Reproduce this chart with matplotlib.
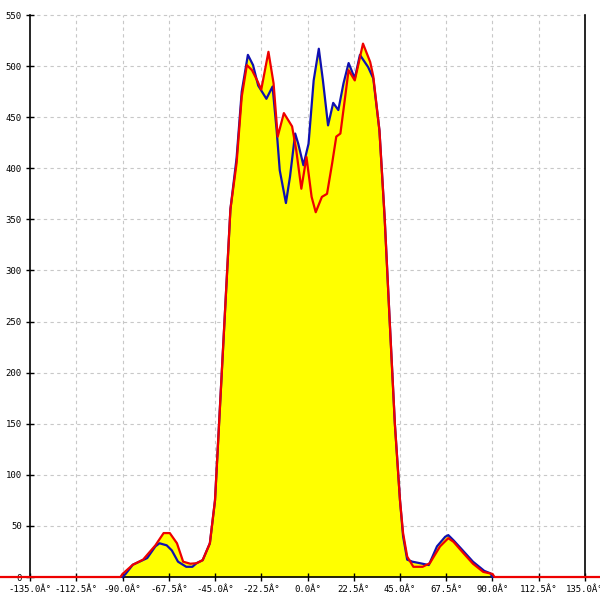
import numpy as np
import matplotlib
matplotlib.use("Agg")
import matplotlib.pyplot as plt

# Ángulos y valores
red_ang = [-180, -91, -90, -85, -80, -74, -70, -67, -63.5, -60.5, -57, -54, -51, -47.5,
           -45, -42.5, -40, -37.5, -34.5, -32, -29.5, -27, -24.5, -22.5, -19, -16.5,
           -14.5, -11.5, -7.5, -5.5, -3, -0.5, 2, 4, 7, 9.5, 12, 14, 16, 20, 23, 27,
           30.5, 32, 35, 37.5, 40, 42.5, 45, 46.5, 48.5, 51.5, 56, 59.5, 64.5, 68.5,
           71, 76, 80.5, 85.5, 90, 91, 180]
red_val = [0, 0, 3, 12, 17, 31, 43, 43, 33, 15, 13, 13.5, 16.5, 33,
           75, 170, 265, 360, 405, 470, 501, 496, 486, 477, 514, 483,
           431, 454, 441, 418, 380, 411, 372, 357, 372, 375, 405, 431, 434, 496, 486, 522,
           504, 490, 437, 353, 250, 150, 75, 43, 20, 10, 10, 13.5, 30, 38,
           34.5, 23, 13, 5, 3, 0, 0]

blue_ang = [-90, -88.5, -85, -78, -74, -72, -68.5, -66, -63, -59, -56, -54, -51, -47.5,
            -45, -42.5, -40, -37.5, -34.5, -32, -29, -26.5, -24, -20, -17, -15, -13.5,
            -10.5, -8.5, -6, -4.5, -2, 0.5, 3, 5.5, 7.5, 10, 12.5, 15, 17.5, 20, 23,
            25.5, 29.5, 32, 35, 37.5, 40, 42.5, 45, 46.5, 48.5, 51, 55, 59, 63, 67,
            68.5, 71, 76, 80.5, 86, 89, 90]
blue_val = [0, 3, 12, 18.5, 30, 33, 31, 26, 15, 10, 10, 13.5, 16.5, 33,
            75, 170, 265, 360, 410, 475, 511, 501, 481, 468, 480, 437, 398,
            366, 392, 434, 424, 403, 424, 486, 517, 486, 442, 464, 457, 483, 503, 488,
            511, 499, 488, 437, 353, 250, 150, 75, 40, 17, 15, 13.4, 11.7, 30, 39.4,
            41, 36, 25, 15, 6, 3.6, 0]

x_ticks = np.arange(-135, 135.1, 22.5)
y_ticks = np.arange(0, 551, 50)
x_labels = ["%.1fÂ°" % v for v in x_ticks]

fig = plt.figure(figsize=(6, 6), dpi=100)
ax = fig.add_axes([0, 0, 1, 1])
ax.set_xlim(-149.6, 142.3)
ax.set_ylim(-22.5, 564.7)

# rejilla discontinua solo dentro del área
ax.vlines(x_ticks[1:-1], 0, 550, colors="#c8c8c8", linestyles=(0, (3, 3)), linewidth=0.8, zorder=0)
ax.hlines(y_ticks[1:], -135, 135, colors="#c8c8c8", linestyles=(0, (3, 3)), linewidth=0.8, zorder=0)

ax.fill_between(blue_ang, blue_val, 0, color="#ffff00", lw=0, zorder=1)
ax.fill_between(red_ang, red_val, 0, color="#ffff00", lw=0, zorder=1)
ax.plot(blue_ang, blue_val, color="#1010b0", lw=1.6, zorder=3)
ax.plot(red_ang, red_val, color="#ee0000", lw=1.6, zorder=4)

ax.spines["top"].set_visible(False)
ax.spines["left"].set_position(("data", -135))
ax.spines["left"].set_bounds(0, 550)
ax.spines["right"].set_position(("data", 135))
ax.spines["right"].set_bounds(0, 550)
ax.spines["bottom"].set_position(("data", 0))
ax.spines["bottom"].set_bounds(-135, 135)
for s in ["left", "right", "bottom"]:
    ax.spines[s].set_linewidth(1.2)
    ax.spines[s].set_zorder(2)

ax.set_xticks(x_ticks)
ax.set_xticklabels(x_labels)
ax.set_yticks(y_ticks)
ax.set_yticklabels([str(v) for v in y_ticks])
ax.tick_params(axis="both", direction="inout", length=6, width=1, pad=3,
               labelsize=6.5, colors="black")
ax.tick_params(axis="y", right=False)
for lab in ax.get_xticklabels() + ax.get_yticklabels():
    lab.set_family("DejaVu Sans Mono")

fig.savefig("out.png", dpi=100)
